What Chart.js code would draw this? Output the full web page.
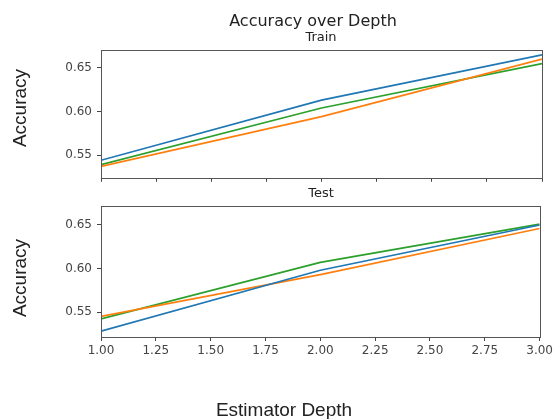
<!DOCTYPE html>
<html>
<head>
<meta charset="utf-8">
<script src="https://cdn.jsdelivr.net/npm/chart.js@4"></script>
<style>
  body { margin: 0; background: #fff; }
  #wrap { position: relative; width: 556px; height: 419px; overflow: hidden; }
  canvas { position: absolute; left: 0; }
  .txt { position: absolute; color: #222; white-space: nowrap; }
  .dv { font-family: "DejaVu Sans", sans-serif; }
  .ar { font-family: "Liberation Sans", Arial, sans-serif; }
</style>
</head>
<body>
<div id="wrap">
  <canvas id="trainChart" style="top:0px" width="556" height="190"></canvas>
  <canvas id="testChart" style="top:190px" width="556" height="229"></canvas>

  <div class="txt dv" style="left:313px; top:20px; font-size:16px; transform:translate(-50%,-50%)">Accuracy over Depth</div>
  <div class="txt dv" style="left:321px; top:36px; font-size:13px; transform:translate(-50%,-50%)">Train</div>
  <div class="txt dv" style="left:321px; top:192px; font-size:13px; transform:translate(-50%,-50%)">Test</div>
  <div class="txt ar" style="left:20px; top:108px; font-size:19px; transform:translate(-50%,-50%) rotate(-90deg)">Accuracy</div>
  <div class="txt ar" style="left:20px; top:278px; font-size:19px; transform:translate(-50%,-50%) rotate(-90deg)">Accuracy</div>
  <div class="txt ar" style="left:284px; top:410px; font-size:19px; transform:translate(-50%,-50%)">Estimator Depth</div>
</div>

<script>
/* ===== data ===== */

const depths = [1, 2, 3]

const trainBlue = [0.544, 0.613, 0.665]
const trainOrange = [0.537, 0.594, 0.660]
const trainGreen = [0.539, 0.604, 0.655]

const testBlue = [0.528, 0.598, 0.650]
const testOrange = [0.545, 0.593, 0.646]
const testGreen = [0.542, 0.607, 0.651]

const xTicks = [1, 1.25, 1.5, 1.75, 2, 2.25, 2.5, 2.75, 3]
const yTicks = [0.55, 0.60, 0.65]

const colors = ["#1f77b4", "#ff7f0e", "#2ca02c"]


/* ===== helpers ===== */

function points(values) {
  return depths.map((d, i) => ({ x: d, y: values[i] }))
}

const framePlugin = {
  id: "frame",
  afterDraw(chart) {
    const a = chart.chartArea
    const ctx = chart.ctx
    ctx.save()
    ctx.strokeStyle = "#555"
    ctx.lineWidth = 1
    ctx.strokeRect(
      Math.round(a.left) + 0.5,
      Math.round(a.top) + 0.5,
      Math.round(a.right - a.left),
      Math.round(a.bottom - a.top)
    )
    ctx.restore()
  }
}

function makeChart(id, series, yMin, yMax, showXLabels, padding, xHeight) {

  const ctx = document.getElementById(id).getContext("2d")

  return new Chart(ctx, {

    type: "line",

    data: {
      datasets: series.map((s, i) => ({
        label: "series " + (i + 1),
        data: points(s),
        borderColor: colors[i],
        borderWidth: 1.7,
        pointRadius: 0,
        tension: 0,
        fill: false
      }))
    },

    options: {
      responsive: false,
      animation: false,
      layout: { padding: padding },
      plugins: {
        legend: { display: false },
        tooltip: { enabled: false }
      },
      scales: {
        x: {
          type: "linear",
          min: 1,
          max: 3,
          afterBuildTicks: s => { s.ticks = xTicks.map(v => ({ value: v })) },
          afterFit: s => { s.height = xHeight },
          grid: {
            drawOnChartArea: false,
            color: "#444",
            tickLength: 4
          },
          border: { display: false },
          ticks: {
            display: showXLabels,
            color: "#444",
            padding: 3,
            maxRotation: 0,
            font: { family: "DejaVu Sans", size: 12 },
            callback: v => v.toFixed(2)
          }
        },
        y: {
          min: yMin,
          max: yMax,
          afterBuildTicks: s => { s.ticks = yTicks.map(v => ({ value: v })) },
          afterFit: s => { s.width = 101 },
          grid: {
            drawOnChartArea: false,
            color: "#444",
            tickLength: 4
          },
          border: { display: false },
          ticks: {
            color: "#444",
            padding: 5,
            font: { family: "DejaVu Sans", size: 12 },
            callback: v => v.toFixed(2)
          }
        }
      }
    },

    plugins: [framePlugin]

  })

}


/* ===== charts ===== */

makeChart(
  "trainChart",
  [trainBlue, trainOrange, trainGreen],
  0.5239, 0.6705,
  false,
  { top: 50, right: 14, bottom: 1, left: 0 },
  10
)

makeChart(
  "testChart",
  [testBlue, testOrange, testGreen],
  0.5213, 0.6718,
  true,
  { top: 16, right: 14, bottom: 52, left: 0 },
  30
)
</script>
</body>
</html>
